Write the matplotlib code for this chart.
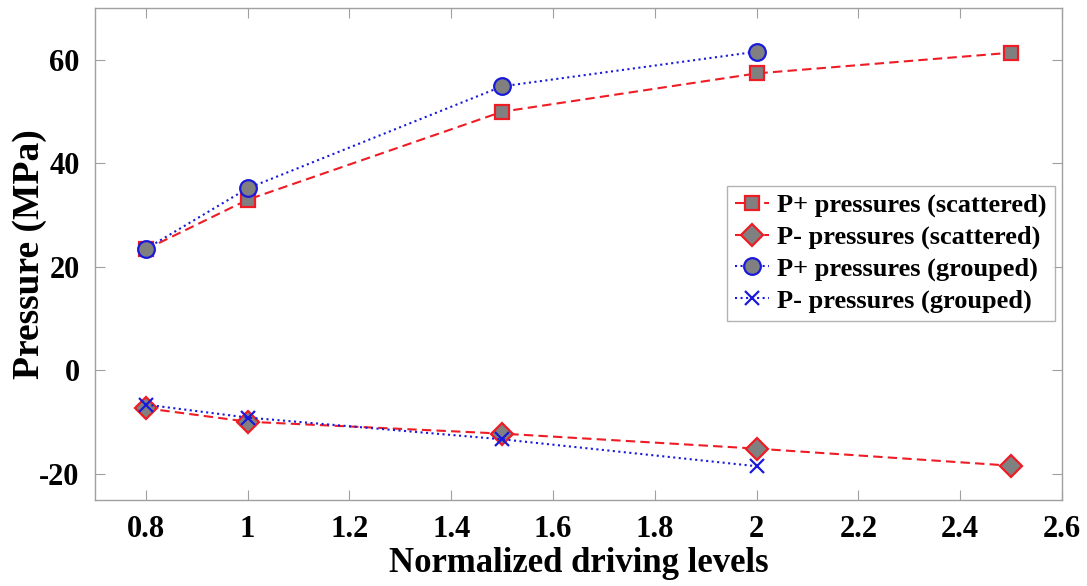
import matplotlib
matplotlib.use("Agg")
import matplotlib.pyplot as plt

# Datos
x_scat = [0.8, 1.0, 1.5, 2.0, 2.5]
p_plus_scat = [23.4, 33.0, 50.0, 57.4, 61.4]
p_minus_scat = [-7.3, -9.9, -12.2, -15.1, -18.4]

x_grp = [0.8, 1.0, 1.5, 2.0]
p_plus_grp = [23.5, 35.2, 54.9, 61.6]
p_minus_grp = [-6.6, -9.1, -13.3, -18.5]

x_ticks = [0.8, 1, 1.2, 1.4, 1.6, 1.8, 2, 2.2, 2.4, 2.6]
x_tick_labels = ["0.8", "1", "1.2", "1.4", "1.6", "1.8", "2", "2.2", "2.4", "2.6"]
y_ticks = [-20, 0, 20, 40, 60]

RED = "#ee1c25"
BLUE = "#1a1adb"
GRAY = "#808080"
EDGE = "#a0a0a0"

plt.rcParams.update({
    "font.family": ["Liberation Serif", "DejaVu Serif"],
    "font.weight": "bold",
    "axes.unicode_minus": False,
})

fig = plt.figure(figsize=(10.87, 5.86), dpi=100)
ax = fig.add_axes([0.0874, 0.147, 0.8896, 0.839])

ax.plot(x_scat, p_plus_scat, linestyle="--", dashes=(4.5, 2.5), color=RED,
        linewidth=1.5, marker="s", markersize=10, markerfacecolor=GRAY,
        markeredgecolor=RED, markeredgewidth=1.6, label="P+ pressures (scattered)")
ax.plot(x_scat, p_minus_scat, linestyle="--", dashes=(4.5, 2.5), color=RED,
        linewidth=1.5, marker="D", markersize=11, markerfacecolor=GRAY,
        markeredgecolor=RED, markeredgewidth=1.6, label="P- pressures (scattered)")
ax.plot(x_grp, p_plus_grp, linestyle=":", color=BLUE, linewidth=1.5,
        marker="o", markersize=12, markerfacecolor=GRAY, markeredgecolor=BLUE,
        markeredgewidth=1.6, label="P+ pressures (grouped)")
ax.plot(x_grp, p_minus_grp, linestyle=":", color=BLUE, linewidth=1.5,
        marker="x", markersize=10, markeredgecolor=BLUE, markeredgewidth=1.6,
        label="P- pressures (grouped)")

ax.set_xlim(0.7, 2.6)
ax.set_ylim(-25, 70)
ax.set_xticks(x_ticks)
ax.set_xticklabels(x_tick_labels)
ax.set_yticks(y_ticks)

for s in ax.spines.values():
    s.set_color(EDGE)
    s.set_linewidth(1.0)
ax.tick_params(direction="in", length=7, width=0.8, color=EDGE,
               top=True, right=True, labelsize=22, pad=11)
for lbl in ax.get_xticklabels() + ax.get_yticklabels():
    lbl.set_fontweight("bold")

ax.set_xlabel("Normalized driving levels", fontsize=25, fontweight="bold")
ax.set_ylabel("Pressure (MPa)", fontsize=27, fontweight="bold")
ax.xaxis.set_label_coords(0.5, -0.095)
ax.yaxis.set_label_coords(-0.05, 0.5)

leg = ax.legend(loc="upper right", bbox_to_anchor=(1.006, 0.666),
                frameon=True, fancybox=False, edgecolor=EDGE,
                handlelength=1.3, handletextpad=0.3, labelspacing=0.3,
                borderpad=0.3, prop={"weight": "bold", "size": 19})
leg.get_frame().set_linewidth(1.0)

fig.savefig("out.png", dpi=100, facecolor="white")
